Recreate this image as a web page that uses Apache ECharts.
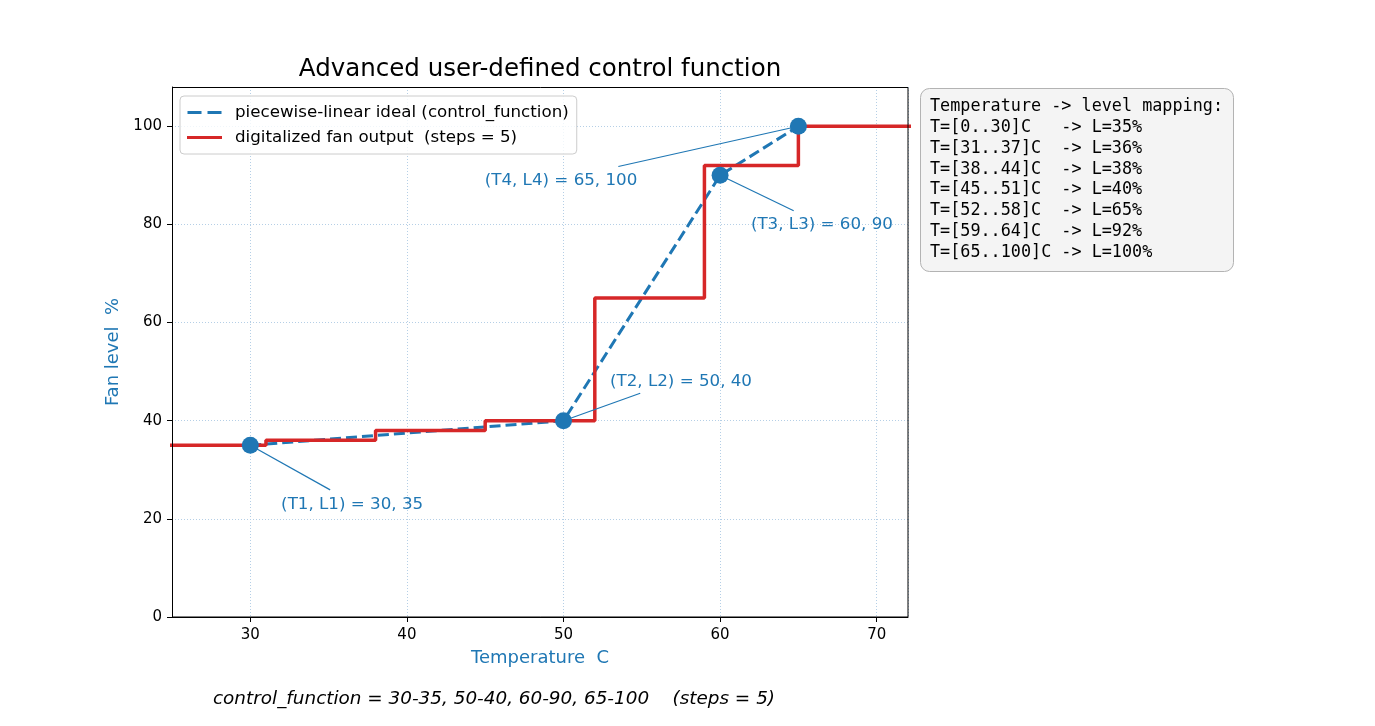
<!DOCTYPE html>
<html>
<head>
<meta charset="utf-8">
<script src="https://cdn.jsdelivr.net/npm/echarts@6/dist/echarts.min.js"></script>
<style>
html, body { margin: 0; padding: 0; background: #fff; }
#main { width: 1375px; height: 726px; }
</style>
</head>
<body>
<div id="main"></div>
<script>
var myChart = echarts.init(document.getElementById('main'));

// control function break points (temperature, level)
var ctrlT = [30, 50, 60, 65];
var ctrlL = [35, 40, 90, 100];

// digitalized output: level starts at stepT[i]
var stepT = [0, 31, 38, 45, 52, 59, 65, 100];
var stepL = [35, 36, 38, 40, 65, 92, 100, 100];

// mapping table (from, to, level)
var mapFrom = [0, 31, 38, 45, 52, 59, 65];
var mapTo = [30, 37, 44, 51, 58, 64, 100];
var mapLevel = [35, 36, 38, 40, 65, 92, 100];

// annotation labels and where their text / leader line sit
var annotText = ['(T1, L1) = 30, 35', '(T2, L2) = 50, 40', '(T3, L3) = 60, 90', '(T4, L4) = 65, 100'];
var annotTextT = [32, 53, 62, 45];
var annotTextL = [22, 47, 79, 88];
var annotLineT = [35.1, 54.9, 64.7, 53.5];
var annotLineL = [25.9, 45.6, 82.8, 91.8];

var blue = '#1f77b4';
var red = '#d62728';
var font = 'DejaVu Sans';

var idealData = ctrlT.map(function (t, i) { return [t, ctrlL[i]]; });
var stepData = stepT.map(function (t, i) { return [t, stepL[i]]; });
var annotLines = ctrlT.map(function (t, i) {
	return { coords: [[t, ctrlL[i]], [annotLineT[i], annotLineL[i]]] };
});
var annotLabels = annotText.map(function (s, i) {
	return { name: s, value: [annotTextT[i], annotTextL[i]] };
});

var mapLines = ['Temperature -> level mapping:'];
for (var i = 0; i < mapFrom.length; i++) {
	var left = ('T=[' + mapFrom[i] + '..' + mapTo[i] + ']C');
	while (left.length < 12) left += ' ';
	mapLines.push(left + ' -> L=' + mapLevel[i] + '%');
}

var option = {
	backgroundColor: '#ffffff',
	animation: false,
	textStyle: { fontFamily: font },
	title: {
		text: 'Advanced user-defined control function',
		left: 535,
		top: 52,
		textAlign: 'center',
		textStyle: { fontFamily: font, fontSize: 24.5, fontWeight: 'normal', color: '#000' }
	},
	legend: {
		orient: 'vertical',
		left: 180,
		top: 96,
		padding: [8, 8, 8, 7],
		itemGap: 8,
		itemWidth: 35,
		itemHeight: 3,
		backgroundColor: 'rgba(255,255,255,0.8)',
		borderColor: '#cccccc',
		borderWidth: 1,
		borderRadius: 4,
		textStyle: { fontFamily: font, fontSize: 16.7, color: '#000', padding: [0, 0, 0, 8] },
		data: [
			{ name: 'piecewise-linear ideal (control_function)', icon: 'path://M0,0h14v3H0z M20,0h14v3H20z' },
			{ name: 'digitalized fan output  (steps = 5)', icon: 'rect' }
		]
	},
	grid: {
		left: 172,
		top: 87,
		width: 736,
		height: 530,
		containLabel: false
	},
	xAxis: {
		type: 'value',
		min: 25,
		max: 72,
		splitNumber: 5,
		name: 'Temperature  C',
		nameLocation: 'middle',
		nameGap: 32,
		nameTextStyle: { color: blue, fontSize: 18, fontFamily: font },
		axisLine: { lineStyle: { color: '#000' } },
		axisTick: { show: true, length: 5, lineStyle: { color: '#000' } },
		axisLabel: { color: '#000', fontSize: 15, margin: 11, showMinLabel: false, showMaxLabel: false },
		splitLine: { show: true, lineStyle: { color: '#b5cfe6', type: [1, 2], width: 1 } }
	},
	yAxis: {
		type: 'value',
		min: 0,
		max: 108,
		interval: 20,
		name: 'Fan level  %',
		nameLocation: 'middle',
		nameGap: 46,
		nameTextStyle: { color: blue, fontSize: 18, fontFamily: font },
		axisLine: { show: true, lineStyle: { color: '#000' } },
		axisTick: { show: true, length: 5, lineStyle: { color: '#000' } },
		axisLabel: { color: '#000', fontSize: 15, margin: 10, showMaxLabel: false },
		splitLine: { show: true, lineStyle: { color: '#b5cfe6', type: [1, 2], width: 1 } }
	},
	series: [
		{
			name: 'piecewise-linear ideal (control_function)',
			type: 'line',
			data: idealData,
			symbol: 'none',
			z: 2,
			lineStyle: { color: blue, width: 3, type: [11, 5] },
			itemStyle: { color: blue }
		},
		{
			name: 'digitalized fan output  (steps = 5)',
			type: 'line',
			step: 'end',
			data: stepData,
			symbol: 'none',
			z: 3,
			lineStyle: { color: red, width: 3.5 },
			itemStyle: { color: red }
		},
		{
			type: 'scatter',
			data: idealData,
			symbolSize: 17,
			z: 5,
			itemStyle: { color: blue, opacity: 1 }
		},
		{
			type: 'lines',
			coordinateSystem: 'cartesian2d',
			z: 4,
			lineStyle: { color: blue, width: 1.2, opacity: 1, curveness: 0 },
			data: annotLines
		},
		{
			type: 'scatter',
			data: annotLabels,
			symbolSize: 1,
			z: 6,
			itemStyle: { color: 'rgba(0,0,0,0)' },
			label: {
				show: true,
				position: [0, 0],
				offset: [0, 4.5],
				align: 'left',
				verticalAlign: 'bottom',
				formatter: '{b}',
				color: blue,
				opacity: 1,
				textBorderWidth: 0,
				fontSize: 16.7,
				fontFamily: font
			}
		}
	],
	graphic: [
		{
			// plot frame
			type: 'rect',
			silent: true,
			shape: { x: 172.5, y: 87.5, width: 735.5, height: 529.5 },
			style: { fill: 'none', stroke: '#000', lineWidth: 1 },
			z: 100
		},
		{
			type: 'rect',
			left: 920,
			top: 88,
			shape: { width: 313, height: 183, r: 9 },
			style: { fill: '#f4f4f4', stroke: '#b3b3b3', lineWidth: 1 },
			z: 10
		},
		{
			type: 'text',
			left: 930,
			top: 96,
			z: 11,
			style: {
				text: mapLines.join('\n'),
				font: '16.8px "DejaVu Sans Mono"',
				lineHeight: 20.9,
				fill: '#000'
			}
		},
		{
			type: 'text',
			left: 213,
			top: 690,
			style: {
				text: 'control_function = 30-35, 50-40, 60-90, 65-100    (steps = 5)',
				font: 'italic 18.4px "DejaVu Sans"',
				fill: '#000'
			}
		}
	]
};

myChart.setOption(option);
</script>
</body>
</html>
